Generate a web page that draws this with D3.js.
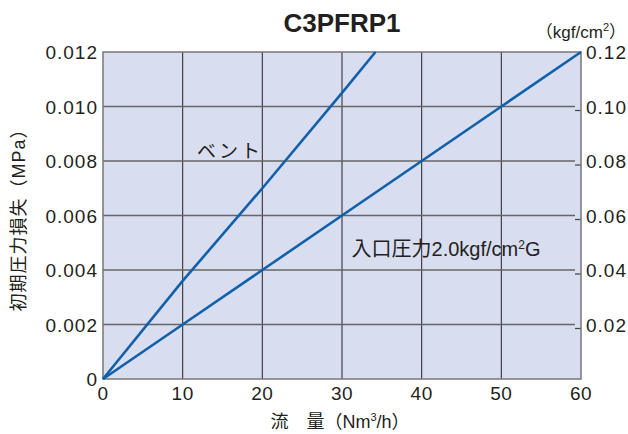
<!DOCTYPE html>
<html>
<head>
<meta charset="utf-8">
<script src="https://cdn.jsdelivr.net/npm/d3@7"></script>
<style>
  body { margin: 0; background: #fff; }
  svg text { font-family: "Liberation Sans", Arial, "Noto Sans CJK JP", sans-serif; fill: #231f20; }
</style>
</head>
<body>
<div id="chart"></div>
<script>
const xTicks = [0, 10, 20, 30, 40, 50, 60];
const yTicks = [0, 0.002, 0.004, 0.006, 0.008, 0.010, 0.012];
const yTickLabels = ['0', '0.002', '0.004', '0.006', '0.008', '0.010', '0.012'];
const rightTicks = [0.02, 0.04, 0.06, 0.08, 0.10, 0.12];
const rightTickLabels = ['0.02', '0.04', '0.06', '0.08', '0.10', '0.12'];

// flow (Nm3/h) vs pressure loss (MPa)
const ventFlow = [0, 10, 20, 30, 34.2];
const ventLoss = [0, 0.0036, 0.0070, 0.0105, 0.012];
const inletFlow = [0, 10, 20, 30, 40, 50, 60];
const inletLoss = [0, 0.002, 0.004, 0.006, 0.008, 0.010, 0.012];

const margin = {left: 103, right: 47, top: 52, bottom: 55},
      width = 628 - margin.left - margin.right,
      height = 434 - margin.top - margin.bottom;

const svg = d3.select('#chart')
    .append('svg')
    .attr('width', 628)
    .attr('height', 434);

const g = svg.append('g')
    .attr('transform', 'translate(' + margin.left + ',' + margin.top + ')');

const x = d3.scaleLinear().domain([0, 60]).range([0, width]);
const y = d3.scaleLinear().domain([0, 0.012]).range([height, 0]);
const yRight = d3.scaleLinear().domain([0, 0.12]).range([height, 0]);

g.append('rect')
    .attr('width', width)
    .attr('height', height)
    .attr('fill', '#d8ddf0');

// grid
g.selectAll('.grid-x')
    .data(xTicks.slice(1, -1))
    .enter()
    .append('line')
    .attr('x1', d => x(d)).attr('x2', d => x(d))
    .attr('y1', 0).attr('y2', height)
    .attr('stroke', '#333')
    .attr('stroke-width', 1.1);

g.selectAll('.grid-y')
    .data(yTicks.slice(1, -1))
    .enter()
    .append('line')
    .attr('x1', 0).attr('x2', width - 6)
    .attr('y1', d => y(d)).attr('y2', d => y(d))
    .attr('stroke', '#666')
    .attr('stroke-width', 1.3);

// right inner ticks
g.selectAll('.tick-r')
    .data(rightTicks.slice(0, -1))
    .enter()
    .append('line')
    .attr('x1', width - 6).attr('x2', width)
    .attr('y1', d => yRight(d) + 4).attr('y2', d => yRight(d) + 4)
    .attr('stroke', '#444')
    .attr('stroke-width', 1.2);

g.append('rect')
    .attr('width', width)
    .attr('height', height)
    .attr('fill', 'none')
    .attr('stroke', '#777')
    .attr('stroke-width', 1.5);

// lines
const line = d3.line().x(d => x(d[0])).y(d => y(d[1]));
const series = [
    d3.zip(ventFlow, ventLoss),
    d3.zip(inletFlow, inletLoss)
];
g.selectAll('.series')
    .data(series)
    .enter()
    .append('path')
    .attr('d', line)
    .attr('fill', 'none')
    .attr('stroke', '#1160aa')
    .attr('stroke-width', 2.6);

// tick labels
g.selectAll('.x-label')
    .data(xTicks)
    .enter()
    .append('text')
    .attr('x', d => x(d))
    .attr('y', height + 21)
    .attr('text-anchor', 'middle')
    .attr('font-size', '19px')
    .attr('letter-spacing', '0.5px')
    .text(d => d);

g.selectAll('.y-label')
    .data(yTicks)
    .enter()
    .append('text')
    .attr('x', -5)
    .attr('y', d => y(d) + 7)
    .attr('text-anchor', 'end')
    .attr('font-size', '19px')
    .attr('letter-spacing', '1px')
    .text((d, i) => yTickLabels[i]);

g.selectAll('.r-label')
    .data(rightTicks)
    .enter()
    .append('text')
    .attr('x', width + 5)
    .attr('y', d => yRight(d) + 7)
    .attr('text-anchor', 'start')
    .attr('font-size', '19px')
    .attr('letter-spacing', '1px')
    .text((d, i) => rightTickLabels[i]);

// titles
svg.append('text')
    .attr('x', 342).attr('y', 32)
    .attr('text-anchor', 'middle')
    .attr('font-size', '26px')
    .attr('font-weight', 'bold')
    .text('C3PFRP1');

svg.append('text')
    .attr('x', 626).attr('y', 38)
    .attr('text-anchor', 'end')
    .attr('font-size', '17px')
    .html('（kgf/cm<tspan font-size="11px" dy="-7">2</tspan><tspan dy="7">）</tspan>');

svg.append('text')
    .attr('x', 340).attr('y', 428)
    .attr('text-anchor', 'middle')
    .attr('font-size', '18px')
    .html('流　量（Nm<tspan font-size="11px" dy="-7">3</tspan><tspan dy="7">/h）</tspan>');

svg.append('text')
    .attr('transform', 'translate(25,' + (margin.top + height / 2) + ') rotate(-90)')
    .attr('text-anchor', 'middle')
    .attr('font-size', '18px')
    .attr('letter-spacing', '1px')
    .text('初期圧力損失（MPa）');

// annotations
g.append('text')
    .attr('x', x(11.8)).attr('y', y(0.0081))
    .attr('font-size', '19px')
    .attr('letter-spacing', '3px')
    .text('ベント');

g.append('text')
    .attr('x', x(31.2)).attr('y', y(0.0045))
    .attr('font-size', '20px')
    .html('入口圧力2.0kgf/cm<tspan font-size="12px" dy="-7">2</tspan><tspan dy="7">G</tspan>');
</script>
</body>
</html>
